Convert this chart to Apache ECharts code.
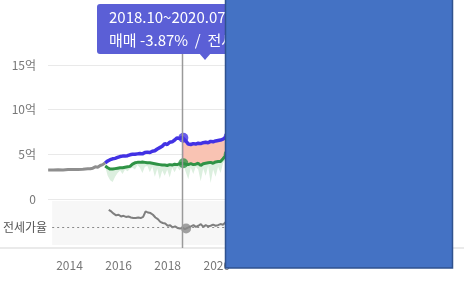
<!DOCTYPE html>
<html><head><meta charset="utf-8">
<script src="https://cdn.jsdelivr.net/npm/echarts@6/dist/echarts.min.js"></script>
<style>html,body{margin:0;padding:0;background:#fff}#c{width:464px;height:281px}</style>
</head><body><div id="c"></div>
<script>
// ---- data ----
var yearTicks = [2014, 2016, 2018, 2020];
var priceTicks = [0, 5, 10, 15];
var earlyYears = [2013.3,2013.5,2013.7,2013.9,2014.1,2014.3,2014.5,2014.7,2014.9,2015.0,2015.1,2015.2,2015.3,2015.4,2015.5,2015.6];
var earlyPrice = [3.25,3.25,3.27,3.25,3.3,3.3,3.3,3.33,3.38,3.38,3.45,3.6,3.55,3.75,3.85,4.05];
var years = [2015.6,2015.7,2015.8,2015.9,2016.0,2016.1,2016.2,2016.3,2016.4,2016.5,2016.6,2016.7,2016.8,2016.9,2017.0,2017.1,2017.2,2017.3,2017.4,2017.5,2017.6,2017.7,2017.8,2017.9,2018.0,2018.1,2018.2,2018.3,2018.4,2018.5,2018.6,2018.7,2018.75,2018.85,2018.95,2019.05,2019.15,2019.25,2019.35,2019.45,2019.55,2019.65,2019.75,2019.85,2019.95,2020.05,2020.15,2020.25,2020.35,2020.45,2020.58];
var salePrice = [4.05,4.25,4.4,4.5,4.55,4.65,4.75,4.8,4.8,4.85,4.95,5.0,5.0,5.05,5.1,5.05,5.2,5.25,5.2,5.35,5.4,5.6,5.75,5.9,6.2,6.1,6.35,6.4,6.6,6.85,6.75,6.9,6.85,6.5,6.15,6.1,6.2,6.15,6.25,6.2,6.3,6.35,6.3,6.45,6.4,6.5,6.55,6.6,6.7,6.9,7.0];
var jeonsePrice = [3.7,3.5,3.35,3.35,3.4,3.45,3.5,3.5,3.55,3.6,3.65,3.9,4.05,4.1,4.1,4.15,4.1,4.05,4.05,4.0,3.95,3.9,3.85,3.8,3.8,3.75,3.85,3.8,3.9,3.85,3.95,4.0,4.0,3.9,3.85,3.95,3.85,3.9,4.0,3.75,3.95,4.0,4.05,4.1,4.0,4.15,4.2,4.2,4.5,4.85,5.0];
var jeonseLow = [3.6,2.6,2.1,1.9,2.5,2.9,3.2,2.8,3.3,3.1,3.4,3.5,3.3,3.8,3.5,2.9,3.6,3.7,3.0,3.6,2.5,3.4,2.2,3.2,2.6,3.3,2.4,3.5,3.0,3.6,3.2,3.7,3.8,3.0,2.2,3.5,2.8,3.6,3.3,2.0,3.4,2.6,3.7,1.8,3.3,2.5,3.6,2.9,4.0,4.4,4.6];
var jeonseRatio = [72,70.5,68.5,67,67.5,66,66.5,65.5,66,65,64.5,64.5,65,64.5,65.5,70.5,69.5,69,67.5,65,63.5,61,60,59.5,57.5,58,56,57,55.5,55,55.5,54.5,55,56,57,58,56.5,57.5,59,56.5,58,57,57.5,58.5,57.5,58,59,58.5,60.5,63.5,64.5];
var ratioAverage = 56.3;
var rangeStart = 2018.75, rangeEnd = 2020.58;
var tipTitle = '2018.10~2020.07';
var tipBody = '매매 -3.87%  /  전세';

// ---- build ----
function pairs(xs, ys) { return xs.map(function (x, i) { return [x, ys[i]]; }); }
function at(arr, yr) { return arr[years.indexOf(yr)]; }
function bandSeries(xs, upper, lower, fill, stroke) {
  return {
    type: 'custom', xAxisIndex: 0, yAxisIndex: 0, silent: true, z: 1,
    data: [0],
    renderItem: function (params, api) {
      var pts = [];
      for (var i = 0; i < xs.length; i++) pts.push(api.coord([xs[i], upper[i]]));
      for (var j = xs.length - 1; j >= 0; j--) pts.push(api.coord([xs[j], lower[j]]));
      return { type: 'polygon', shape: { points: pts }, style: { fill: fill, stroke: stroke || null, lineWidth: 1 } };
    }
  };
}
var hiIdx = years.map(function (y, i) { return y >= rangeStart - 1e-9 ? i : -1; }).filter(function (i) { return i >= 0; });
var hiYears = hiIdx.map(function (i) { return years[i]; });
var hiSale = hiIdx.map(function (i) { return salePrice[i]; });
var hiJeonse = hiIdx.map(function (i) { return jeonsePrice[i]; });

var FONT = '"Noto Sans CJK KR", "Noto Sans", sans-serif';
var chart = echarts.init(document.getElementById('c'), null, { renderer: 'canvas' });
var xMin = 2013.294, xMax = 2029.5;
var xCommon = { type: 'value', min: xMin, max: xMax, splitLine: { show: false }, axisTick: { show: false } };

chart.setOption({
  animation: false,
  grid: [
    { left: 48, width: 402, top: 65, height: 134 },
    { left: 48, width: 402, top: 201, height: 44, show: true, backgroundColor: '#f7f7f7', borderWidth: 0 }
  ],
  xAxis: [
    Object.assign({ gridIndex: 0, show: false }, xCommon),
    Object.assign({ gridIndex: 1, axisLine: { show: false },
      axisLabel: { customValues: yearTicks, margin: 14, color: '#777', fontSize: 12, fontFamily: FONT,
        formatter: function (v) { return String(v); } } }, xCommon)
  ],
  yAxis: [
    { type: 'value', gridIndex: 0, min: 0, max: 15, interval: 5,
      axisLine: { show: false }, axisTick: { show: false },
      axisLabel: { margin: 12, color: '#777', fontSize: 12, fontFamily: FONT,
        formatter: function (v) { return v === 0 ? '0' : v + '억'; } },
      splitLine: { lineStyle: { color: '#e9e9e9', width: 1 } } },
    { type: 'value', gridIndex: 1, min: 40, max: 80,
      axisLine: { show: false }, axisTick: { show: false }, splitLine: { show: false },
      axisLabel: { customValues: [ratioAverage], margin: 5, color: '#555', fontSize: 12, fontFamily: FONT,
        formatter: function () { return '전세가율'; } } }
  ],
  series: [
    bandSeries(years, jeonsePrice, jeonseLow, '#dcefdf'),
    bandSeries(hiYears, hiSale, hiJeonse, '#f9c3b3', '#eeaab0'),
    { type: 'line', name: 'early', xAxisIndex: 0, yAxisIndex: 0, data: pairs(earlyYears, earlyPrice), z: 3,
      symbol: 'none', lineStyle: { color: '#8e8e8e', width: 3 } },
    { type: 'line', name: '전세', xAxisIndex: 0, yAxisIndex: 0, data: pairs(years, jeonsePrice), z: 3,
      symbol: 'none', lineStyle: { color: '#2f9346', width: 3 } },
    { type: 'line', name: '매매', xAxisIndex: 0, yAxisIndex: 0, data: pairs(years, salePrice), z: 3,
      symbol: 'none', lineStyle: { color: '#4232e4', width: 3.5 } },
    { type: 'scatter', xAxisIndex: 0, yAxisIndex: 0, symbolSize: 10, z: 5,
      data: [
        { value: [rangeStart, at(salePrice, rangeStart)], itemStyle: { color: '#4232e4' } },
        { value: [rangeStart, at(jeonsePrice, rangeStart)], itemStyle: { color: '#2f9346' } },
        { value: [rangeEnd, at(salePrice, rangeEnd)], itemStyle: { color: '#4232e4' } },
        { value: [rangeEnd, at(jeonsePrice, rangeEnd)], itemStyle: { color: '#2f9346' } }
      ] },
    { type: 'line', name: '전세가율', xAxisIndex: 1, yAxisIndex: 1, data: pairs(years, jeonseRatio), z: 3,
      symbol: 'none', lineStyle: { color: '#7f7f7f', width: 2 },
      markLine: { silent: true, symbol: 'none', label: { show: false },
        lineStyle: { color: '#8a8a8a', type: [2, 3], width: 1.2 }, data: [{ yAxis: ratioAverage }] } },
    { type: 'scatter', xAxisIndex: 1, yAxisIndex: 1, symbolSize: 10, z: 5,
      itemStyle: { color: '#8a8a8a' },
      data: [[rangeStart, at(jeonseRatio, rangeStart)], [rangeEnd, at(jeonseRatio, rangeEnd)]] }
  ]
});

var vx = Math.round(chart.convertToPixel({ xAxisIndex: 0 }, rangeStart)) - 0.5;
chart.setOption({
  graphic: [
    { type: 'line', z: 1, shape: { x1: 0, y1: 248, x2: 464, y2: 248 }, style: { stroke: '#e3e3e3', lineWidth: 1.5 } },
    { type: 'line', z: 50, shape: { x1: vx, y1: 50, x2: vx, y2: 248 }, style: { stroke: '#9a9a9a', lineWidth: 1.5 } },
    { type: 'rect', z: 60, shape: { x: 97, y: 4, width: 200, height: 50, r: 3 }, style: { fill: '#5b5fd6' } },
    { type: 'polygon', z: 60, shape: { points: [[199, 53], [211, 53], [205, 60]] }, style: { fill: '#5b5fd6' } },
    { type: 'text', z: 61, x: 109, y: 17, style: { text: tipTitle, fill: '#fff', font: '15px ' + FONT, verticalAlign: 'middle' } },
    { type: 'text', z: 61, x: 109, y: 40, style: { text: tipBody, fill: '#fff', font: '15px ' + FONT, verticalAlign: 'middle' } },
    { type: 'rect', z: 100, shape: { x: 225.5, y: -2, width: 227, height: 270 }, style: { fill: '#4472c4', stroke: '#2f528f', lineWidth: 1.5 } }
  ]
});
</script></body></html>
